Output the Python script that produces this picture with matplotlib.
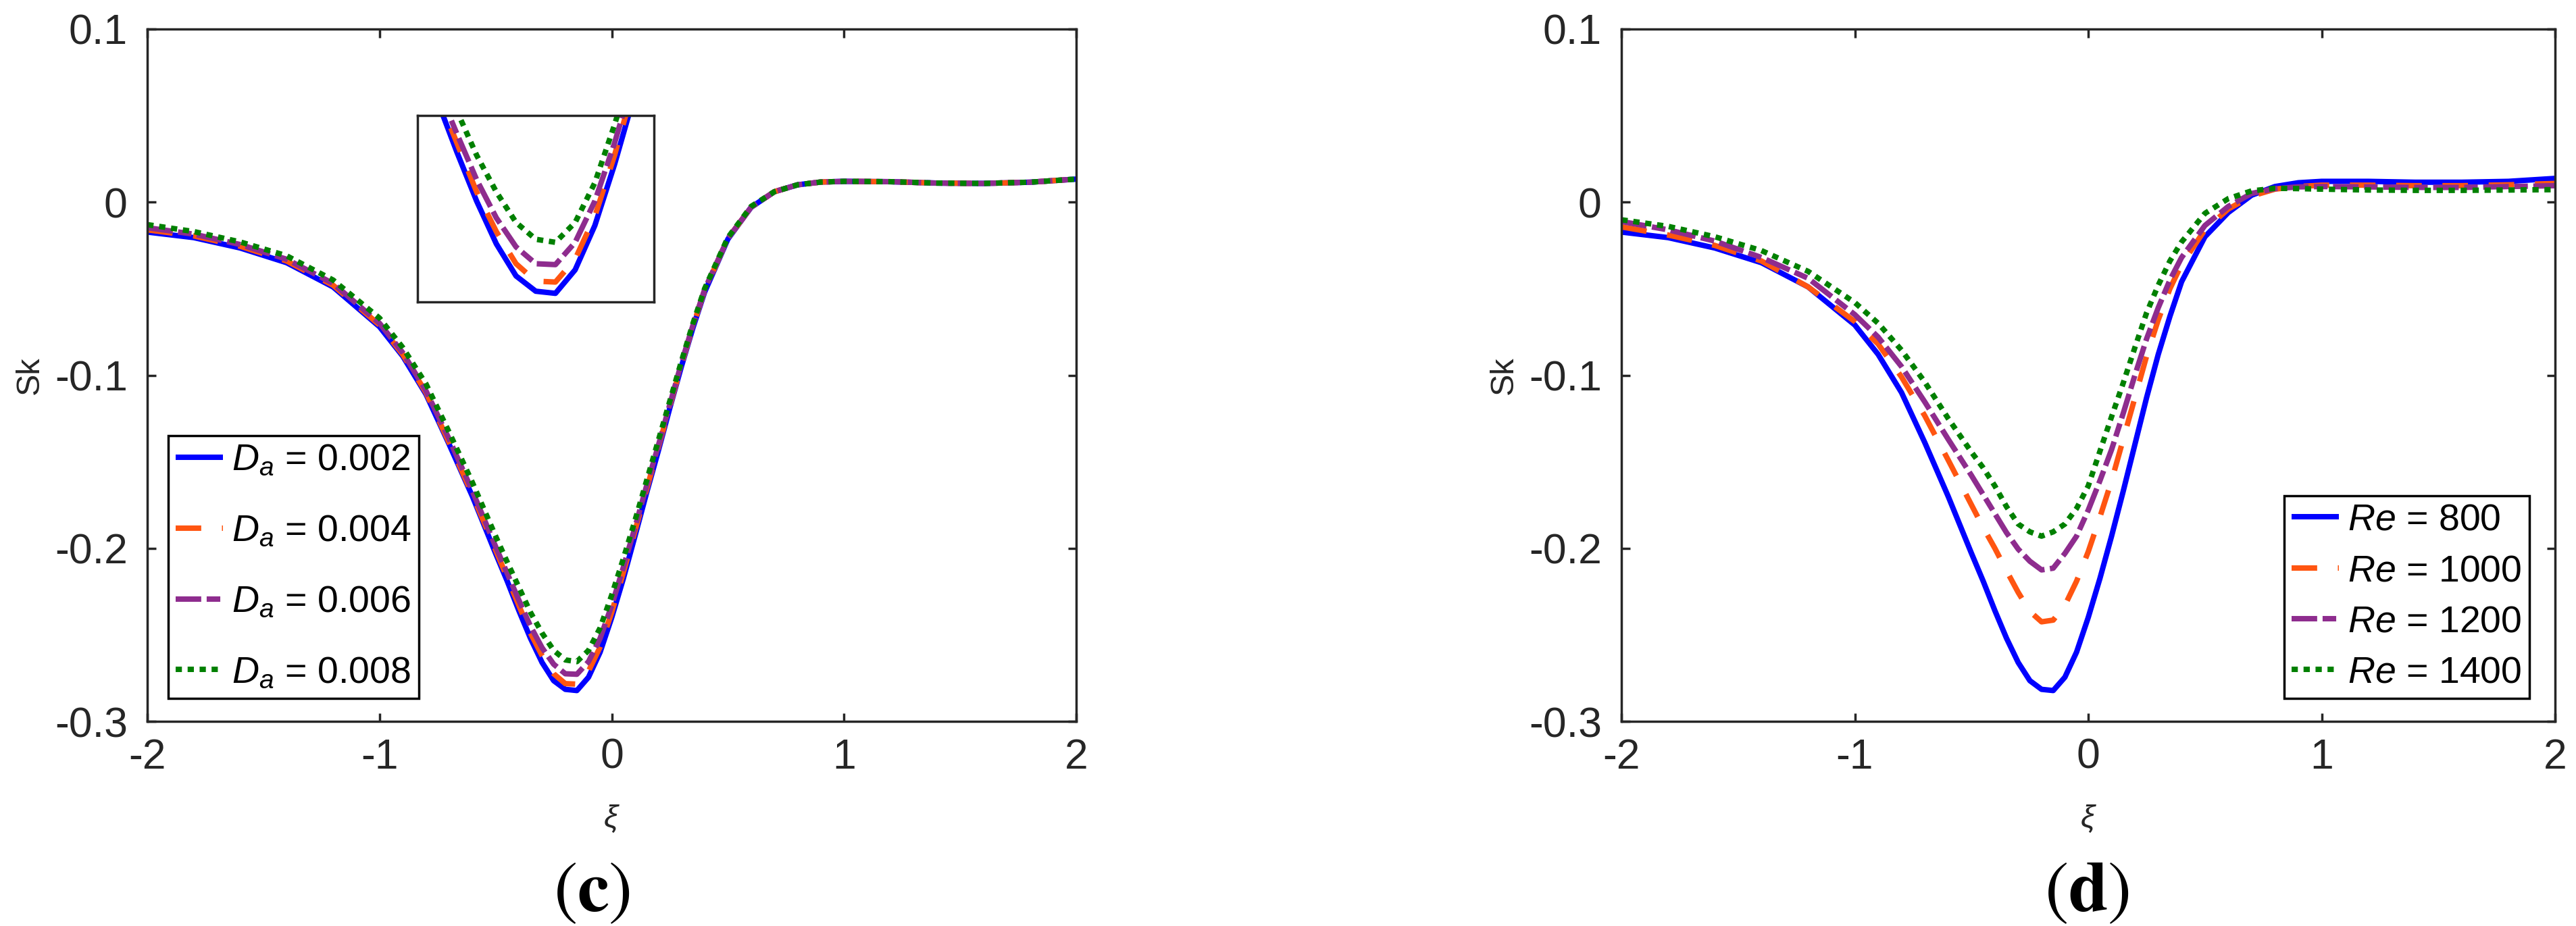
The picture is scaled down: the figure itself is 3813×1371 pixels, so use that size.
import matplotlib
matplotlib.use("Agg")
import matplotlib.pyplot as plt

# ------------------------------------------------------------
# Data
# ------------------------------------------------------------
XI = [-2.0, -1.8, -1.6, -1.4, -1.2, -1.0, -0.9, -0.8, -0.7, -0.6,
      -0.5, -0.45, -0.4, -0.35, -0.3, -0.25, -0.2, -0.15, -0.1, -0.05,
      0.0, 0.05, 0.1, 0.15, 0.2, 0.25, 0.3, 0.35, 0.4, 0.5,
      0.6, 0.7, 0.8, 0.9, 1.0, 1.2, 1.4, 1.6, 1.8, 2.0]

# panel (c): Damkohler number
SK_DA_002 = [-0.0173, -0.0205, -0.0265, -0.035, -0.049, -0.072, -0.089, -0.111, -0.140, -0.170,
             -0.203, -0.219, -0.236, -0.252, -0.266, -0.2765, -0.2815, -0.2822, -0.2745, -0.260,
             -0.240, -0.2175, -0.193, -0.168, -0.144, -0.119, -0.095, -0.0725, -0.052, -0.0214,
             -0.003, 0.006, 0.010, 0.0116, 0.012, 0.0118, 0.011, 0.0108, 0.0115, 0.0133]
SK_DA_004 = [-0.0160, -0.0195, -0.0255, -0.034, -0.048, -0.071, -0.088, -0.110, -0.139, -0.169,
             -0.201, -0.217, -0.233, -0.249, -0.262, -0.2725, -0.2782, -0.2785, -0.2710, -0.257,
             -0.237, -0.214, -0.190, -0.166, -0.142, -0.118, -0.094, -0.0715, -0.051, -0.021,
             -0.003, 0.006, 0.010, 0.0116, 0.012, 0.0118, 0.011, 0.0108, 0.0115, 0.0133]
SK_DA_006 = [-0.0148, -0.0185, -0.0245, -0.033, -0.047, -0.070, -0.087, -0.109, -0.137, -0.167,
             -0.199, -0.2145, -0.230, -0.245, -0.2575, -0.267, -0.2725, -0.2728, -0.2655, -0.252,
             -0.233, -0.211, -0.188, -0.164, -0.141, -0.117, -0.093, -0.071, -0.0505, -0.021,
             -0.003, 0.006, 0.010, 0.0116, 0.012, 0.0118, 0.011, 0.0108, 0.0115, 0.0133]
SK_DA_008 = [-0.0130, -0.0170, -0.0230, -0.031, -0.045, -0.067, -0.084, -0.105, -0.133, -0.162,
             -0.193, -0.208, -0.2225, -0.237, -0.249, -0.259, -0.2645, -0.2655, -0.259, -0.246,
             -0.227, -0.206, -0.184, -0.161, -0.138, -0.115, -0.092, -0.070, -0.050, -0.0205,
             -0.0025, 0.006, 0.010, 0.0116, 0.012, 0.0118, 0.011, 0.0108, 0.0115, 0.0133]

# panel (d): Reynolds number
SK_RE_800 = [-0.0173, -0.0205, -0.0265, -0.035, -0.049, -0.071, -0.088, -0.110, -0.139, -0.170,
             -0.203, -0.219, -0.236, -0.252, -0.266, -0.2765, -0.2815, -0.2822, -0.2745, -0.260,
             -0.240, -0.2175, -0.193, -0.167, -0.140, -0.113, -0.088, -0.066, -0.046, -0.020,
             -0.006, 0.004, 0.009, 0.0112, 0.012, 0.012, 0.0115, 0.0115, 0.012, 0.0137]
SK_RE_1000 = [-0.0143, -0.019, -0.025, -0.034, -0.049, -0.069, -0.082, -0.101, -0.1235, -0.149,
              -0.175, -0.188, -0.200, -0.213, -0.2255, -0.2365, -0.2425, -0.2415, -0.233, -0.219,
              -0.202, -0.182, -0.161, -0.137, -0.113, -0.089, -0.068, -0.050, -0.036, -0.016,
              -0.004, 0.0035, 0.0075, 0.009, 0.0098, 0.0098, 0.0095, 0.0095, 0.010, 0.0108]
SK_RE_1200 = [-0.0112, -0.016, -0.0225, -0.032, -0.044, -0.065, -0.078, -0.095, -0.1155, -0.137,
              -0.158, -0.169, -0.180, -0.191, -0.2005, -0.2075, -0.2125, -0.2115, -0.203, -0.193,
              -0.178, -0.161, -0.143, -0.122, -0.100, -0.079, -0.061, -0.045, -0.032, -0.0135,
              -0.0025, 0.005, 0.0078, 0.0088, 0.009, 0.0088, 0.0085, 0.0085, 0.009, 0.0095]
SK_RE_1400 = [-0.0102, -0.014, -0.020, -0.028, -0.040, -0.058, -0.070, -0.0855, -0.104, -0.125,
              -0.1445, -0.1535, -0.164, -0.176, -0.186, -0.1905, -0.193, -0.1905, -0.186, -0.177,
              -0.164, -0.144, -0.124, -0.1045, -0.084, -0.064, -0.048, -0.034, -0.023, -0.0065,
              0.002, 0.0065, 0.008, 0.0078, 0.0075, 0.007, 0.0068, 0.0068, 0.007, 0.0072]

DA_LABELS = [r"$D_a$ = 0.002", r"$D_a$ = 0.004", r"$D_a$ = 0.006", r"$D_a$ = 0.008"]
RE_LABELS = [r"$Re$ = 800", r"$Re$ = 1000", r"$Re$ = 1200", r"$Re$ = 1400"]

X_TICKS = [-2, -1, 0, 1, 2]
X_TICK_LABELS = ["-2", "-1", "0", "1", "2"]
Y_TICKS = [-0.3, -0.2, -0.1, 0.0, 0.1]
Y_TICK_LABELS = ["-0.3", "-0.2", "-0.1", "0", "0.1"]

# ------------------------------------------------------------
# Style
# ------------------------------------------------------------
COLORS = ["#0000FF", "#FF5511", "#8E2C8E", "#008000"]
DASHES = [None, (4.7, 3.8), (4.7, 1.0, 2.5, 1.0), (1.15, 1.05)]
LW = 5.8
AX_COLOR = "#262626"

plt.rcParams["font.family"] = ["Liberation Sans", "DejaVu Sans"]
plt.rcParams["mathtext.fontset"] = "custom"
plt.rcParams["mathtext.rm"] = "Liberation Sans"
plt.rcParams["mathtext.it"] = "Liberation Sans:italic"
plt.rcParams["axes.unicode_minus"] = False

W, H = 3813, 1371


def fig_box(x0, y0, x1, y1):
    """pixel box (top-left origin) -> figure fraction rect"""
    return [x0 / W, 1 - y1 / H, (x1 - x0) / W, (y1 - y0) / H]


def draw_curves(ax, series, labels=None):
    for i, ys in enumerate(series):
        line, = ax.plot(XI, ys, color=COLORS[i], lw=LW,
                        solid_capstyle="butt", dash_capstyle="butt",
                        solid_joinstyle="round",
                        label=labels[i] if labels else None)
        if DASHES[i] is not None:
            line.set_dashes(DASHES[i])


def style_axes(ax):
    ax.set_xlim(-2, 2)
    ax.set_ylim(-0.3, 0.1)
    ax.set_xticks(X_TICKS)
    ax.set_xticklabels(X_TICK_LABELS)
    ax.set_yticks(Y_TICKS)
    ax.set_yticklabels(Y_TICK_LABELS)
    ax.tick_params(direction="in", length=9, width=2.5, top=True, right=True,
                   labelsize=45, colors=AX_COLOR)
    ax.tick_params(axis="x", pad=17)
    ax.tick_params(axis="y", pad=21)
    for sp in ax.spines.values():
        sp.set_linewidth(2.5)
        sp.set_color(AX_COLOR)
    ax.set_xlabel(r"$\xi$", fontsize=34, color=AX_COLOR, va="center")
    ax.xaxis.set_label_coords(0.5, -0.1405)
    ax.set_ylabel("Sk", fontsize=35, color=AX_COLOR, va="center")
    ax.yaxis.set_label_coords(-0.126, 0.5)


def add_legend(ax, labels, anchor, loc, spacing):
    leg = ax.legend(labels=labels, loc=loc, bbox_to_anchor=anchor,
                    bbox_transform=ax.figure.transFigure, fontsize=40,
                    frameon=True, fancybox=False, framealpha=1, edgecolor="k",
                    borderpad=0.2, borderaxespad=0, handlelength=1.25,
                    handletextpad=0.25, labelspacing=spacing)
    leg.get_frame().set_linewidth(2.5)
    return leg


fig = plt.figure(figsize=(W / 100, H / 100), dpi=100)

# ---------------- panel (c) ----------------
da_series = [SK_DA_002, SK_DA_004, SK_DA_006, SK_DA_008]
ax_c = fig.add_axes(fig_box(218, 43, 1593, 1068))
draw_curves(ax_c, da_series, DA_LABELS)
style_axes(ax_c)
add_legend(ax_c, DA_LABELS, (249 / W, 1 - 1034 / H), "lower left", 0.95)

ax_in = fig.add_axes(fig_box(618, 171, 968, 447))
draw_curves(ax_in, da_series)
ax_in.set_xlim(-0.5, 0.1)
ax_in.set_ylim(-0.285, -0.224)
ax_in.set_xticks([])
ax_in.set_yticks([])
for sp in ax_in.spines.values():
    sp.set_linewidth(2.5)
    sp.set_color(AX_COLOR)

# ---------------- panel (d) ----------------
re_series = [SK_RE_800, SK_RE_1000, SK_RE_1200, SK_RE_1400]
ax_d = fig.add_axes(fig_box(2400, 43, 3782, 1068))
draw_curves(ax_d, re_series, RE_LABELS)
style_axes(ax_d)
add_legend(ax_d, RE_LABELS, (3744 / W, 1 - 1034 / H), "lower right", 0.42)

# ---------------- captions ----------------
fig.text(876 / W, 1 - 1322 / H, r"$(\mathbf{c})$", math_fontfamily="stix",
         fontsize=76, ha="center", va="center")
fig.text(3089 / W, 1 - 1322 / H, r"$(\mathbf{d})$", math_fontfamily="stix",
         fontsize=76, ha="center", va="center")

fig.savefig("out.png", dpi=100)
